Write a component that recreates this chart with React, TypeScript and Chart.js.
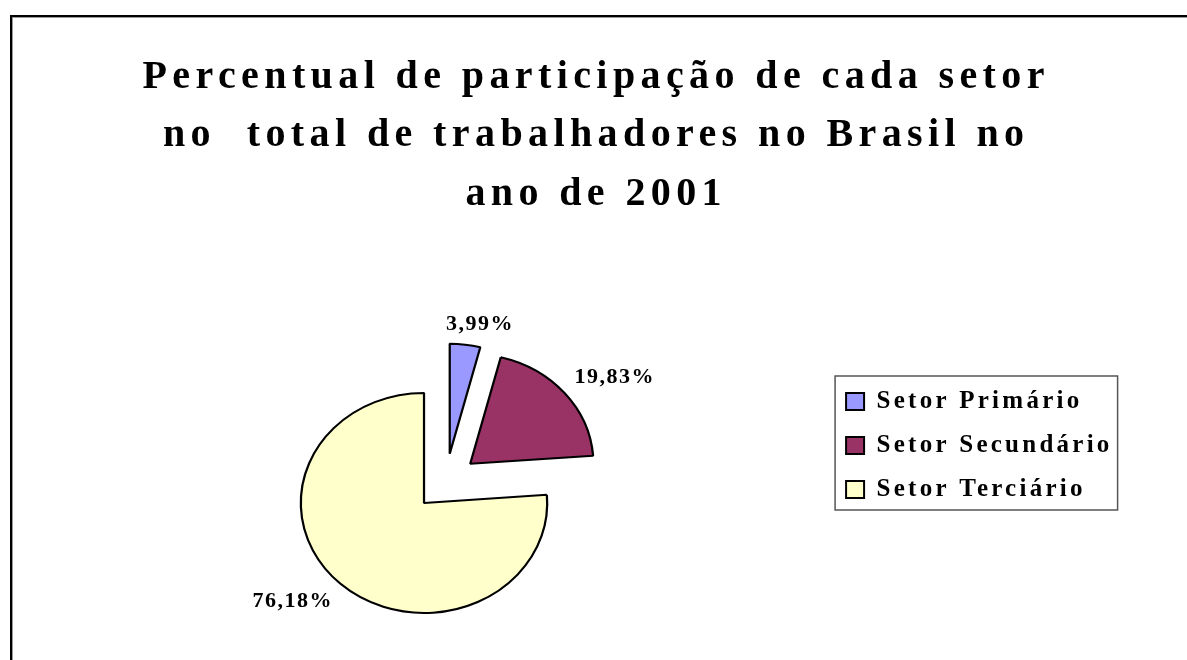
import React, { useEffect, useRef } from 'react';
import { Chart, PieController, ArcElement, Legend, Title } from 'chart.js';

Chart.register(PieController, ArcElement, Legend, Title);

// ---- data ----
const titleLines = [
  'Percentual de participação de cada setor',
  'no  total de trabalhadores no Brasil no',
  'ano de 2001',
];
const categories = ['Setor Primário', 'Setor Secundário', 'Setor Terciário'];
const shares = [3.99, 19.83, 76.18];
const sliceColors = ['#9999FF', '#993366', '#FFFFCC'];

// ---- style constants ----
const W = 1187;
const H = 660;
const FONT = '"Liberation Serif", "Times New Roman", serif';
const PIE_RADIUS = 110;
const STRETCH_X = 1.12;
const EXPLODE = 28.5;
const LABEL_GAP = 11.5;
const LABEL_SIZE = 22;
const LABEL_SPACING = 1.5;
const TITLE_SIZE = 40;
const TITLE_SPACING = 5.4;
const LEGEND_SIZE = 25;
const LEGEND_SPACING = 3.25;
const LEGEND_PAD = 19;

const fmtPct = (v: number) => v.toFixed(2).replace('.', ',') + '%';

const spacingPlugin = {
  id: 'letterSpacingCtl',
  beforeLayout(chart: any) {
    chart.ctx.letterSpacing = LEGEND_SPACING + 'px';
  },
  beforeDraw(chart: any) {
    const tb = chart.titleBlock;
    if (tb && !tb._spaced) {
      const orig = tb.draw;
      tb.draw = function (...a: any[]) {
        const c = this.ctx;
        c.save();
        c.letterSpacing = TITLE_SPACING + 'px';
        c.translate(TITLE_SPACING / 2, 0);
        orig.apply(this, a);
        c.restore();
      };
      tb._spaced = true;
    }
    chart.ctx.letterSpacing = LEGEND_SPACING + 'px';
  },
  beforeDatasetsDraw(chart: any) {
    chart.ctx.letterSpacing = '0px';
  },
};

const explodePlugin = {
  id: 'explodeStretch',
  beforeDatasetDraw(chart: any, args: any) {
    const arcs = args.meta.data;
    if (!arcs.length) return;
    const ctx = chart.ctx;
    const { x, y } = arcs[0];
    ctx.save();
    ctx.translate(x, y);
    ctx.scale(STRETCH_X, 1);
    ctx.translate(-x, -y);
    for (const arc of arcs) {
      const mid = (arc.startAngle + arc.endAngle) / 2;
      ctx.save();
      ctx.translate(Math.cos(mid) * EXPLODE, Math.sin(mid) * EXPLODE);
      arc.draw(ctx, chart.chartArea);
      ctx.restore();
    }
    ctx.restore();
    return false;
  },
};

const labelPlugin = {
  id: 'pctLabels',
  afterDatasetsDraw(chart: any) {
    const meta = chart.getDatasetMeta(0);
    const values = chart.data.datasets[0].data as number[];
    const ctx = chart.ctx;
    ctx.save();
    ctx.font = `bold ${LABEL_SIZE}px ${FONT}`;
    ctx.letterSpacing = LABEL_SPACING + 'px';
    ctx.fillStyle = '#000';
    ctx.textBaseline = 'middle';
    ctx.textAlign = 'left';
    meta.data.forEach((arc: any, i: number) => {
      const mid = (arc.startAngle + arc.endAngle) / 2;
      const dx = Math.cos(mid);
      const dy = Math.sin(mid);
      const r = arc.outerRadius + EXPLODE + LABEL_GAP;
      const text = fmtPct(values[i]);
      const w = ctx.measureText(text).width - LABEL_SPACING;
      const hw = w / 2;
      const hh = LABEL_SIZE * 0.4;
      const cx = arc.x + dx * r * STRETCH_X + Math.sign(dx) * hw * Math.min(1, 3 * Math.abs(dx));
      const cy = arc.y + dy * r + Math.sign(dy) * hh * Math.min(1, 3 * Math.abs(dy));
      ctx.fillText(text, cx - hw, cy);
    });
    ctx.restore();
  },
};

const legendFramePlugin = {
  id: 'legendFrame',
  afterDraw(chart: any) {
    const lg = chart.legend;
    if (!lg || !lg.legendHitBoxes || !lg.legendHitBoxes.length) return;
    const hb = lg.legendHitBoxes;
    const left = Math.min(...hb.map((h: any) => h.left)) - 11;
    const right = Math.max(...hb.map((h: any) => h.left + h.width)) + 5;
    const top = Math.min(...hb.map((h: any) => h.top)) - 13;
    const bottom = Math.max(...hb.map((h: any) => h.top + h.height)) + 8;
    const ctx = chart.ctx;
    ctx.save();
    ctx.strokeStyle = '#555';
    ctx.lineWidth = 1.5;
    ctx.strokeRect(left, top, right - left, bottom - top);
    ctx.restore();
  },
};

export default function App() {
  const ref = useRef<HTMLCanvasElement | null>(null);

  useEffect(() => {
    if (!ref.current) return;
    const chart = new Chart(ref.current, {
      type: 'pie',
      data: {
        labels: categories,
        datasets: [
          {
            data: shares,
            backgroundColor: sliceColors,
            borderColor: '#000',
            borderWidth: 2,
            radius: PIE_RADIUS,
          } as any,
        ],
      },
      options: {
        responsive: false,
        animation: false,
        events: [],
        layout: { padding: { top: 0, left: 64.4, right: 64.4, bottom: 65.8 } },
        plugins: {
          title: {
            display: true,
            text: titleLines,
            color: '#000',
            font: { family: FONT, size: TITLE_SIZE, weight: 'bold', lineHeight: 58.35 / TITLE_SIZE },
            padding: { top: 48.6, bottom: 146.35 },
          },
          legend: {
            display: true,
            position: 'right',
            align: 'start',
            fullSize: false,
            labels: {
              color: '#000',
              font: { family: FONT, size: LEGEND_SIZE, weight: 'bold' },
              boxWidth: 18,
              boxHeight: 17,
              padding: LEGEND_PAD,
            },
          },
        } as any,
      },
      plugins: [spacingPlugin, explodePlugin, labelPlugin, legendFramePlugin],
    });
    return () => chart.destroy();
  }, []);

  return (
    <div
      style={{
        position: 'fixed',
        left: 0,
        top: 0,
        width: W,
        height: H,
        overflow: 'hidden',
        background: '#fff',
      }}
    >
      <div
        style={{
          position: 'absolute',
          left: 10,
          top: 15,
          width: W + 100,
          height: H + 100,
          borderLeft: '2px solid #000',
          borderTop: '2px solid #000',
          boxShadow: 'inset 1px 1px 0 #999',
        }}
      />
      <canvas
        ref={ref}
        width={W}
        height={H}
        style={{ position: 'absolute', left: 0, top: 0 }}
      />
    </div>
  );
}
